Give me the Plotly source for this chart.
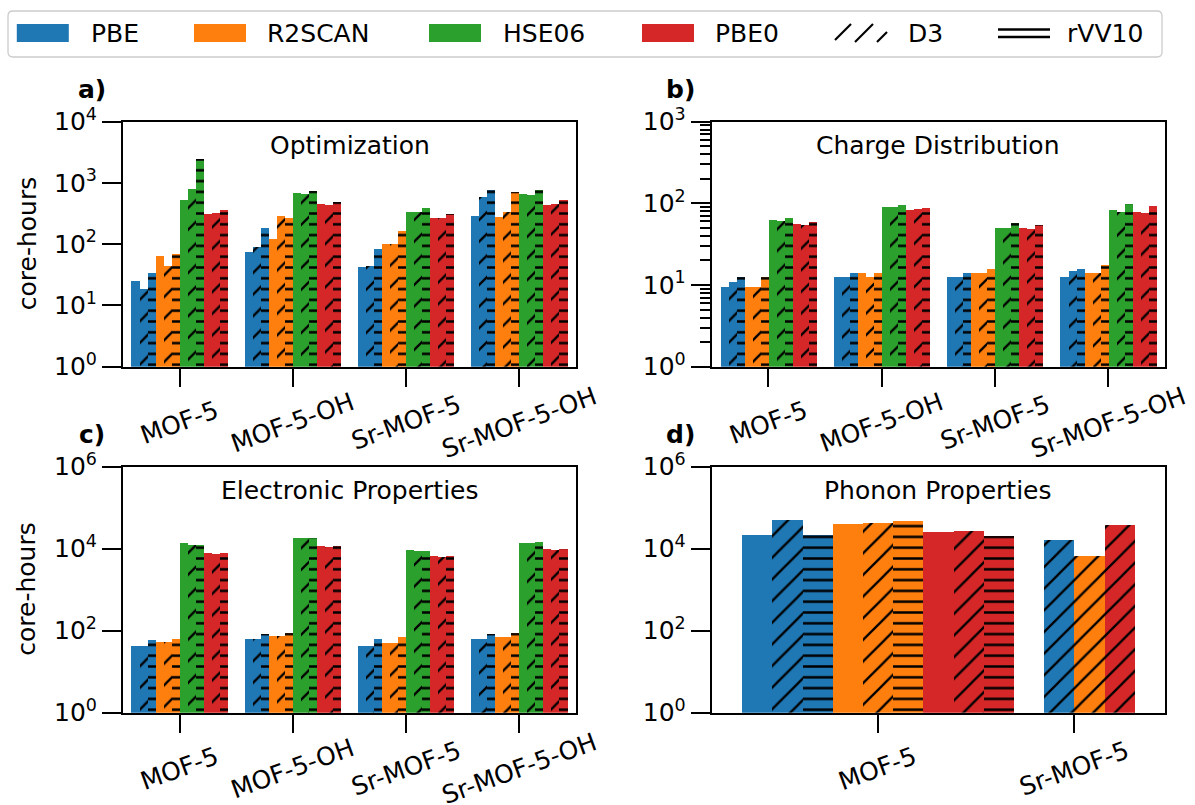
import plotly.graph_objects as go

W, H = 1195, 805

# ---------------------------------------------------------------- data
systems = ["MOF-5", "MOF-5-OH", "Sr-MOF-5", "Sr-MOF-5-OH"]
phonon_systems = ["MOF-5", "Sr-MOF-5"]
functionals = ["PBE", "R2SCAN", "HSE06", "PBE0"]
variants = ["", "D3", "rVV10"]

# core-hours; rows follow `systems`, columns are (plain, D3, rVV10)
opt_pbe = [[25.4, 19.0, 34.8], [74.6, 90, 188], [43, 44.5, 84.5], [296, 605, 767]]
opt_r2scan = [[64, 44.5, 71], [123, 288, 268], [102, 102, 168], [281, 335, 720]]
opt_hse06 = [[541, 796, 2489], [703, 677, 759], [344, 344, 390], [678, 652, 767]]
opt_pbe0 = [[315, 323, 361], [453, 440, 494], [271, 271, 315], [437, 453, 530]]

chg_pbe = [[9.5, 11.1, 12.6], [12.6, 12.6, 14.3], [12.6, 12.6, 14.3], [12.6, 15.0, 15.9]]
chg_r2scan = [[9.5, 9.5, 12.6], [14.3, 12.6, 14.3], [14.3, 14.3, 15.9], [14.3, 14.3, 17.6]]
chg_hse06 = [[62.5, 60.8, 66.2], [90.2, 90.2, 95.5], [51, 50, 57.5], [83, 79.8, 99]]
chg_pbe0 = [[55.9, 54.3, 59.1], [83, 85.3, 88.5], [50.5, 48.5, 54.3], [79.8, 76.9, 94.7]]

elec_pbe = [[42.4, 42.4, 59.3], [62.7, 62.7, 83], [42.4, 42.4, 62.7], [65, 65, 83]]
elec_r2scan = [[53, 53, 65], [74, 74, 89.5], [51, 51, 70], [70, 70, 90]]
elec_hse06 = [[13800, 12300, 12300], [18200, 18200, 18500], [9300, 9100, 9100], [14300, 14300, 14500]]
elec_pbe0 = [[7850, 7600, 7850], [11800, 11000, 11600], [6640, 6400, 6700], [9840, 9600, 9800]]

# phonons: MOF-5 with (plain, D3, rVV10); Sr-MOF-5 only with D3
ph_mof5_pbe = [21900, 50100, 22100]
ph_mof5_r2scan = [40000, 42400, 48200]
ph_mof5_pbe0 = [26000, 27000, 20700]
ph_sr_functionals = ["PBE", "R2SCAN", "PBE0"]
ph_sr_d3 = [16300, 6640, 39300]

# ---------------------------------------------------------------- style
COLORS = {"PBE": "#1f77b4", "R2SCAN": "#ff7f0e", "HSE06": "#2ca02c", "PBE0": "#d62728"}
FONT = "DejaVu Sans"
AXIS_LINE = 2


def pattern_for(variant, color):
    if variant == "D3":
        return dict(shape="/", size=15.3, solidity=0.15, fgcolor="black",
                    bgcolor=color, fgopacity=1)
    if variant == "rVV10":
        return dict(shape="-", size=10.8, solidity=0.23, fgcolor="black",
                    bgcolor=color, fgopacity=1)
    return None


def sfx(i):
    return "" if i == 1 else str(i)


fig = go.Figure()


def add_bar(ax, xs, ys, width, color, variant):
    marker = dict(color=color, line=dict(width=0))
    pat = pattern_for(variant, color)
    if pat:
        marker["pattern"] = pat
    fig.add_trace(go.Bar(x=xs, y=ys, width=width, marker=marker,
                         xaxis="x" + sfx(ax), yaxis="y" + sfx(ax),
                         showlegend=False, hoverinfo="skip"))


# panels a-c: 4 systems x 12 bars
group_width = 0.85
nbar = 12
bw = group_width / nbar
panel_data = {
    1: [opt_pbe, opt_r2scan, opt_hse06, opt_pbe0],
    2: [chg_pbe, chg_r2scan, chg_hse06, chg_pbe0],
    3: [elec_pbe, elec_r2scan, elec_hse06, elec_pbe0],
}
for ax, tables in panel_data.items():
    for fi, (fname, table) in enumerate(zip(functionals, tables)):
        for vi, var in enumerate(variants):
            slot = fi * 3 + vi
            xs = [g + (slot - (nbar - 1) / 2) * bw for g in range(len(systems))]
            ys = [row[vi] for row in table]
            add_bar(ax, xs, ys, bw, COLORS[fname], var)

# panel d: phonons
bwd = 2 / 13
for fi, (fname, vals) in enumerate(zip(["PBE", "R2SCAN", "PBE0"],
                                       [ph_mof5_pbe, ph_mof5_r2scan, ph_mof5_pbe0])):
    for vi, var in enumerate(variants):
        slot = fi * 3 + vi
        add_bar(4, [0 + (slot - 4) * bwd], [vals[vi]], bwd, COLORS[fname], var)
for j, (fname, val) in enumerate(zip(ph_sr_functionals, ph_sr_d3)):
    add_bar(4, [1 + (j - 0.5) * bwd], [val], bwd, COLORS[fname], "D3")

# ---------------------------------------------------------------- axes
boxes = {  # left, right, top, bottom (px)
    1: (123, 576, 121.7, 366.7),
    2: (711.7, 1165, 121.7, 366.7),
    3: (123, 576, 466.7, 712.7),
    4: (711.7, 1165, 466.7, 712.7),
}
xranges = {1: [-0.5, 3.5], 2: [-0.5, 3.5], 3: [-0.5, 3.5], 4: [-0.846, 1.463]}
ydecades = {1: [0, 1, 2, 3, 4], 2: [0, 1, 2, 3], 3: [0, 2, 4, 6], 4: [0, 2, 4, 6]}
xlabels = {1: systems, 2: systems, 3: systems, 4: phonon_systems}
titles = {1: "Optimization", 2: "Charge Distribution",
          3: "Electronic Properties", 4: "Phonon Properties"}
letters = {1: "a)", 2: "b)", 3: "c)", 4: "d)"}

layout = dict(
    width=W, height=H, autosize=False,
    margin=dict(l=0, r=0, t=0, b=0, pad=0, autoexpand=False),
    paper_bgcolor="white", plot_bgcolor="white",
    barmode="overlay", bargap=0,
    font=dict(family=FONT, size=25, color="black"),
    showlegend=False,
)
annotations = []
shapes = []

for ax, (l, r, t, b) in boxes.items():
    s = sfx(ax)
    decs = ydecades[ax]
    xa = dict(domain=[l / W, r / W], range=xranges[ax], anchor="y" + s,
              tickmode="array", tickvals=list(range(len(xlabels[ax]))),
              ticks="outside", ticklen=18, tickwidth=AXIS_LINE, tickcolor="black",
              showticklabels=False, showline=True, linewidth=AXIS_LINE,
              linecolor="black", mirror=True, showgrid=False, zeroline=False,
              automargin=False)
    ya = dict(domain=[1 - b / H, 1 - t / H], type="log", range=[decs[0], decs[-1]],
              anchor="x" + s, tickmode="array",
              tickvals=[10 ** d for d in decs],
              ticktext=["10<sup>%d</sup>" % d for d in decs],
              ticks="outside", ticklen=19, tickwidth=AXIS_LINE, tickcolor="black",
              tickfont=dict(size=25), showline=True, linewidth=AXIS_LINE,
              linecolor="black", mirror=True, showgrid=False, zeroline=False,
              automargin=False)
    if ax == 2:
        minor_vals = [m * 10 ** d for d in decs[:-1] for m in range(2, 10)]
        ya["minor"] = dict(tickmode="array", tickvals=minor_vals, ticks="outside",
                           ticklen=10, tickwidth=1.5, tickcolor="black", showgrid=False)
    layout["xaxis" + s] = xa
    layout["yaxis" + s] = ya

    # category labels, rotated about their top-centre
    for i, lab in enumerate(xlabels[ax]):
        annotations.append(dict(text=lab, x=i, xref="x" + s, y=0, yref="y%s domain" % s,
                                yshift=-55.5, textangle=-20, xanchor="center",
                                yanchor="middle", showarrow=False, font=dict(size=25)))
    # panel title inside the axes
    annotations.append(dict(text=titles[ax], x=0.5, xref="x%s domain" % s, y=1,
                            yref="y%s domain" % s, yshift=-23.5, xanchor="center",
                            yanchor="middle", showarrow=False, font=dict(size=25)))
    # panel letter
    annotations.append(dict(text="<b>%s</b>" % letters[ax], x=0, xref="x%s domain" % s,
                            xshift=-31, y=1, yref="y%s domain" % s, yshift=32,
                            xanchor="center", yanchor="middle", showarrow=False,
                            font=dict(size=25)))
    if ax in (1, 3):
        annotations.append(dict(text="core-hours", x=27 / W, xref="paper", y=0.5,
                                yref="y%s domain" % s, textangle=-90, xanchor="center",
                                yanchor="middle", showarrow=False, font=dict(size=25)))

# ---------------------------------------------------------------- legend


def X(px):
    return px / W


def Y(py):
    return 1 - py / H


lx0, lx1, ly0, ly1, rad = 8, 1162, 11, 57, 5
shapes.append(dict(
    type="path", xref="paper", yref="paper",
    path=("M {a},{t} L {b},{t} Q {r},{t} {r},{tt} L {r},{bb} Q {r},{bo} {b},{bo} "
          "L {a},{bo} Q {l},{bo} {l},{bb} L {l},{tt} Q {l},{t} {a},{t} Z").format(
        a=X(lx0 + rad), b=X(lx1 - rad), l=X(lx0), r=X(lx1),
        t=Y(ly0), tt=Y(ly0 + rad), bo=Y(ly1), bb=Y(ly1 - rad)),
    line=dict(color="#cccccc", width=1.3), fillcolor="white", layer="above"))

handle_x = [16.8, 194, 429, 642, 835, 998]
text_x = [89, 265, 501, 713, 906, 1065]
legend_labels = functionals + ["D3", "rVV10"]
hy0, hy1 = 24, 42
hw = 52
for k, (hx, tx, lab) in enumerate(zip(handle_x, text_x, legend_labels)):
    if k < 4:
        shapes.append(dict(type="rect", xref="paper", yref="paper",
                           x0=X(hx), x1=X(hx + hw), y0=Y(hy1), y1=Y(hy0),
                           fillcolor=COLORS[lab], line=dict(width=0), layer="above"))
    elif lab == "D3":
        span = hy1 - hy0
        for start in (hx - 2, hx + 20, hx + 42):
            xa0, ya0 = start, hy1
            xa1, ya1 = start + span, hy0
            if xa0 < hx:
                ya0 -= hx - xa0
                xa0 = hx
            if xa1 > hx + hw:
                ya1 += xa1 - (hx + hw)
                xa1 = hx + hw
            shapes.append(dict(type="line", xref="paper", yref="paper",
                               x0=X(xa0), y0=Y(ya0), x1=X(xa1), y1=Y(ya1),
                               line=dict(color="black", width=2.2), layer="above"))
    else:
        for yy in (29.5, 37):
            shapes.append(dict(type="line", xref="paper", yref="paper",
                               x0=X(hx), y0=Y(yy), x1=X(hx + hw), y1=Y(yy),
                               line=dict(color="black", width=2.4), layer="above"))
    annotations.append(dict(text=lab, x=X(tx), xref="paper", y=Y(33.5), yref="paper",
                            xanchor="left", yanchor="middle", showarrow=False,
                            font=dict(size=25)))

layout["annotations"] = annotations
layout["shapes"] = shapes
fig.update_layout(**layout)
fig.write_html("out.html")
